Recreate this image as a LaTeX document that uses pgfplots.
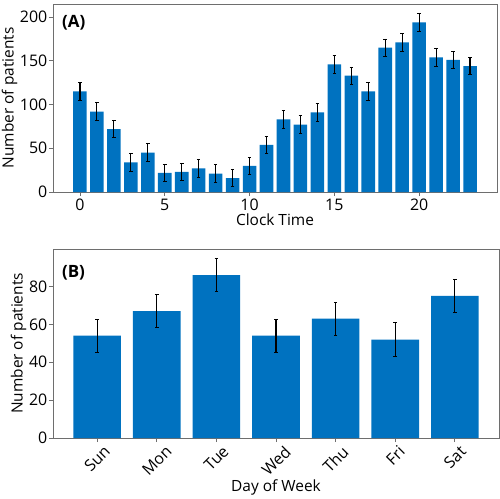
\documentclass[border=0pt]{standalone}
\usepackage{fontspec}
\setmainfont{Open Sans}
\usepackage{pgfplots}
\pgfplotsset{compat=1.18}
\definecolor{barblue}{RGB}{0,114,192}
\definecolor{framegray}{RGB}{110,110,110}
\pgfplotsset{
  common/.style={
    scale only axis,
    anchor=north west,
    axis line style={framegray, line width=0.9bp},
    tick style={framegray, line width=0.9bp},
    tick align=outside,
    major tick length=4bp,
    xtick pos=bottom, ytick pos=left,
    /pgf/number format/assume math mode=true,
    ticklabel style={font=\fontsize{16}{19}\selectfont},
    yticklabel style={inner sep=1.5bp},
    xticklabel style={inner sep=2.5bp},
    label style={font=\fontsize{15.5}{18}\selectfont},
    ylabel style={inner sep=1bp},
    ymin=0,
    bar width=0.8,
    ybar, bar shift=0pt,
  },
  errs/.style={
    fill=barblue, draw=none,
    error bars/.cd, y dir=both, y explicit,
    error bar style={black, line width=1.1bp},
    error mark options={black, rotate=90, mark size=1.8bp, line width=0.9bp},
  },
}
\begin{document}
\begin{tikzpicture}
\useasboundingbox (0,0) rectangle (500bp,-499bp);
\begin{axis}[common,
  at={(53bp,-4bp)}, width=444bp, height=188bp,
  xmin=-1.59, xmax=24.59, ymax=215,
  xtick={0,5,10,15,20}, ytick={0,50,100,150,200},
  xlabel={Clock Time}, ylabel={Number of patients},
  xlabel style={yshift=3bp},
]
\addplot+[errs] coordinates {
(0,115) +- (0,10)
(1,92) +- (0,10)
(2,72) +- (0,10)
(3,34) +- (0,10)
(4,45) +- (0,10)
(5,22) +- (0,10)
(6,23) +- (0,10)
(7,27) +- (0,10)
(8,21) +- (0,10)
(9,16) +- (0,10)
(10,30) +- (0,10)
(11,54) +- (0,10)
(12,83) +- (0,10)
(13,77) +- (0,10)
(14,91) +- (0,10)
(15,146) +- (0,10)
(16,133) +- (0,10)
(17,115) +- (0,10)
(18,165) +- (0,10)
(19,171) +- (0,10)
(20,194) +- (0,10)
(21,154) +- (0,10)
(22,151) +- (0,10)
(23,144) +- (0,10)
};
\node[anchor=north west, inner sep=0pt, font=\bfseries\fontsize{17}{20}\selectfont] at (rel axis cs:0.02,0.94) {(A)};
\end{axis}
\begin{axis}[common,
  at={(53bp,-249bp)}, width=446bp, height=189bp,
  xmin=-0.74, xmax=6.74, ymax=99.8,
  xtick={0,...,6}, ytick={0,20,40,60,80},
  xticklabels={\rotatebox{45}{Sun},\rotatebox{45}{Mon},\rotatebox{45}{Tue},\rotatebox{45}{Wed},\rotatebox{45}{Thu},\rotatebox{45}{Fri},\rotatebox{45}{Sat}},
  xlabel={Day of Week}, ylabel={Number of patients},
  xlabel style={yshift=3bp},
]
\addplot+[errs] coordinates {
(0,54) +- (0,8.8)
(1,67) +- (0,8.8)
(2,86) +- (0,8.8)
(3,54) +- (0,8.8)
(4,63) +- (0,8.8)
(5,52) +- (0,8.8)
(6,75) +- (0,8.8)
};
\node[anchor=north west, inner sep=0pt, font=\bfseries\fontsize{17}{20}\selectfont] at (rel axis cs:0.02,0.915) {(B)};
\end{axis}
\end{tikzpicture}
\end{document}
